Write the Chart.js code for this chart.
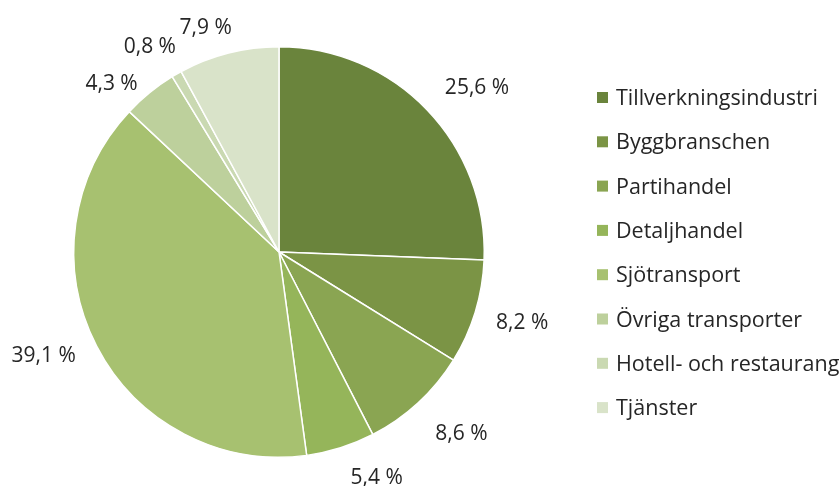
<!DOCTYPE html>
<html><head><meta charset="utf-8">
<script src="https://cdn.jsdelivr.net/npm/chart.js@4"></script>
<style>html,body{margin:0;padding:0;background:#fff}#wrap{width:840px;height:486px}</style>
</head><body><div id="wrap"><canvas id="c" width="840" height="486"></canvas></div>
<script>
const categories = ["Tillverkningsindustri","Byggbranschen","Partihandel","Detaljhandel","Sjötransport","Övriga transporter","Hotell- och restaurang","Tjänster"];
const shares = [25.6, 8.2, 8.6, 5.4, 39.1, 4.3, 0.8, 7.9];
const valueLabels = ["25,6 %","8,2 %","8,6 %","5,4 %","39,1 %","4,3 %","0,8 %","7,9 %"];
const colors = ["#6a843c","#7b9445","#8aa552","#95b55a","#a7c170","#bdd09c","#cad9b2","#d9e3c9"];

const FONT = '"Open Sans", "Liberation Sans", sans-serif';
// label placement: [angle shift in degrees from slice middle, distance from centre in px]
const labelPlacement = [[4,258],[-1,253],[-2.5,257],[-6,245],[3.6,257],[-5.6,238],[-2.2,243],[-3.8,237]];
const outsideLabels = {
  id: 'outsideLabels',
  afterDraw(chart) {
    const ctx = chart.ctx;
    const meta = chart.getDatasetMeta(0);
    ctx.save();
    ctx.font = '21px ' + FONT;
    ctx.fillStyle = '#262626';
    ctx.textAlign = 'center';
    ctx.textBaseline = 'middle';
    meta.data.forEach((arc, i) => {
      const mid = (arc.startAngle + arc.endAngle) / 2 + labelPlacement[i][0] * Math.PI / 180;
      const r = labelPlacement[i][1];
      ctx.fillText(valueLabels[i], arc.x + Math.cos(mid) * r, arc.y + Math.sin(mid) * r + 1);
    });
    // legend
    ctx.textAlign = 'left';
    ctx.textBaseline = 'alphabetic';
    categories.forEach((name, i) => {
      const base = 105 + i * 44.3;
      ctx.fillStyle = colors[i];
      ctx.fillRect(597, base - 13, 11, 11);
      ctx.fillStyle = '#262626';
      ctx.font = '21.5px ' + FONT;
      ctx.fillText(name, 616, base);
    });
    ctx.restore();
  }
};

new Chart(document.getElementById('c'), {
  type: 'pie',
  data: { labels: categories, datasets: [{ data: shares, backgroundColor: colors, borderColor: '#ffffff', borderWidth: 1.5 }] },
  options: {
    responsive: false, animation: false,
    layout: { padding: { left: 73, right: 355, top: 46, bottom: 28 } },
    plugins: { legend: { display: false }, tooltip: { enabled: false } }
  },
  plugins: [outsideLabels]
});
</script></body></html>
